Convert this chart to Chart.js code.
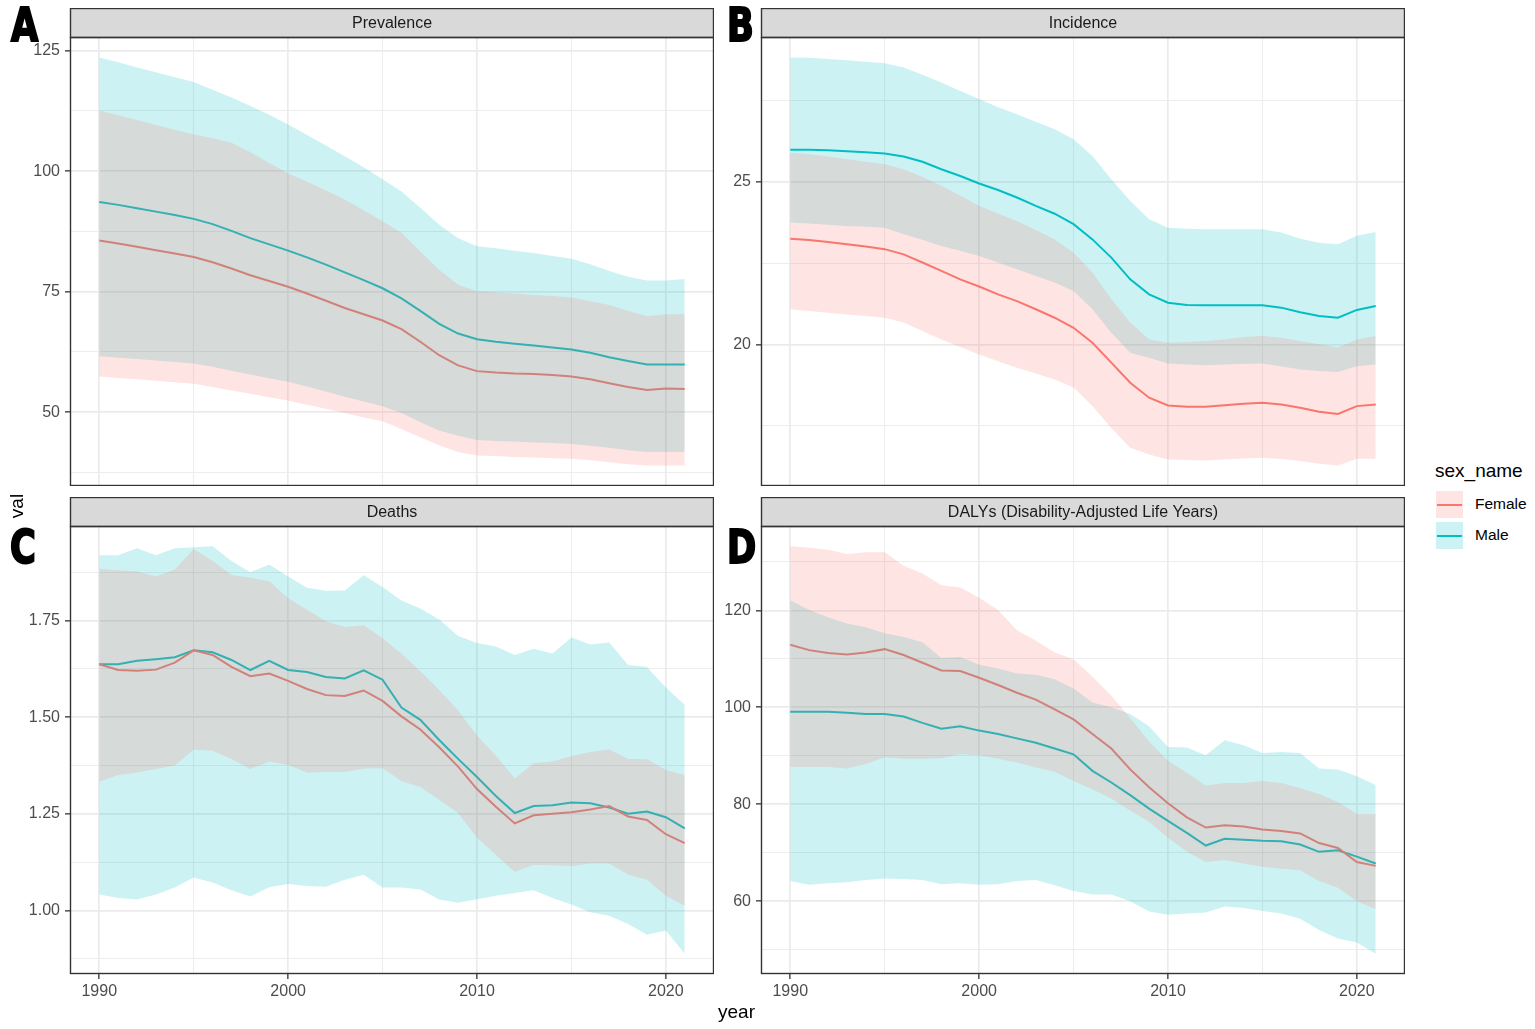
<!DOCTYPE html>
<html>
<head>
<meta charset="utf-8">
<script src="https://cdn.jsdelivr.net/npm/chart.js@4.4.1/dist/chart.umd.min.js"></script>
<style>
  body { margin: 0; background: #fff; font-family: "Liberation Sans", Arial, sans-serif; }
  #page { position: relative; width: 1535px; height: 1029px; overflow: hidden; background: #fff; }
  .panel { position: absolute; }
  .tag { position: absolute; font-family: "Liberation Sans Narrow", "DejaVu Sans Condensed", sans-serif;
         font-weight: bold; font-size: 46px; line-height: 1; color: #000;
         -webkit-text-stroke: 2px #000; transform: scaleX(0.85); transform-origin: left top; }
  .txt { position: absolute; color: #000; white-space: nowrap; }
  .key { position: absolute; width: 27px; height: 27px; }
  .key span { position: absolute; left: 1px; right: 1px; top: 12.5px; height: 2px; }
</style>
</head>
<body>
<div id="page">
  <div class="panel" id="pA" style="left:0px;top:8px;width:714px;height:478px"><canvas id="cA"></canvas></div>
  <div class="panel" id="pB" style="left:691px;top:8px;width:714px;height:478px"><canvas id="cB"></canvas></div>
  <div class="panel" id="pC" style="left:0px;top:497px;width:714px;height:517px"><canvas id="cC"></canvas></div>
  <div class="panel" id="pD" style="left:691px;top:497px;width:714px;height:517px"><canvas id="cD"></canvas></div>

  <div class="tag" style="left:11px;top:2px">A</div>
  <div class="tag" style="left:727px;top:2px">B</div>
  <div class="tag" style="left:10px;top:524px">C</div>
  <div class="tag" style="left:727px;top:524px">D</div>

  <div class="txt" style="left:718px;top:1001px;font-size:19px">year</div>
  <div class="txt" style="left:2px;top:495px;font-size:19px;transform:rotate(-90deg);transform-origin:center;width:30px;text-align:center">val</div>

  <div class="txt" style="left:1435px;top:460px;font-size:19px">sex_name</div>
  <div class="key" style="left:1436px;top:491px;background:rgba(248,118,109,0.2)"><span style="background:#F8766D"></span></div>
  <div class="key" style="left:1436px;top:522px;background:rgba(0,191,196,0.2)"><span style="background:#00BFC4"></span></div>
  <div class="txt" style="left:1475px;top:495px;font-size:15.5px">Female</div>
  <div class="txt" style="left:1475px;top:526px;font-size:15.5px">Male</div>
</div>

<script>
// years 1990-2021
const years = [1990,1991,1992,1993,1994,1995,1996,1997,1998,1999,2000,2001,2002,2003,2004,2005,
               2006,2007,2008,2009,2010,2011,2012,2013,2014,2015,2016,2017,2018,2019,2020,2021];

// Prevalence
const prevFemale   = [85.6,85.0,84.3,83.6,82.9,82.2,81.1,79.8,78.4,77.2,76.0,74.6,73.1,71.6,70.3,69.0,67.2,64.6,61.8,59.7,58.5,58.2,58.0,57.9,57.7,57.4,56.8,56.0,55.2,54.6,54.9,54.8];
const prevFemaleLo = [57.4,57.1,56.8,56.5,56.2,55.9,55.2,54.5,53.8,53.1,52.4,51.5,50.7,49.8,48.9,48.1,46.5,44.8,43.1,41.7,41.0,40.9,40.7,40.6,40.4,40.3,40.0,39.6,39.2,38.9,38.9,38.9];
const prevFemaleHi = [112.6,111.6,110.6,109.6,108.6,107.6,106.8,105.9,103.9,101.7,99.5,97.8,96.0,94.1,91.9,89.6,87.2,83.3,79.5,76.4,75.1,74.8,74.6,74.3,74.1,73.8,73.0,72.2,71.0,69.9,70.3,70.3];
const prevMale     = [93.6,93.0,92.3,91.6,90.9,90.1,89.0,87.6,86.1,84.8,83.5,82.1,80.6,79.0,77.4,75.7,73.6,71.0,68.3,66.3,65.1,64.6,64.2,63.8,63.4,63.0,62.3,61.4,60.6,59.9,59.9,59.9];
const prevMaleLo   = [61.6,61.3,61.0,60.7,60.4,60.1,59.4,58.6,57.8,57.0,56.3,55.3,54.3,53.2,52.2,51.2,49.8,47.9,46.2,45.1,44.2,44.0,43.9,43.7,43.6,43.4,43.0,42.6,42.1,41.7,41.7,41.7];
const prevMaleHi   = [123.6,122.6,121.5,120.5,119.5,118.5,116.9,115.3,113.5,111.7,109.7,107.5,105.3,103.1,100.8,98.3,95.8,92.4,88.9,86.1,84.4,84.0,83.5,83.0,82.4,81.8,80.7,79.3,78.1,77.3,77.3,77.6];

// Incidence
const incFemale   = [23.25,23.21,23.15,23.08,23.01,22.93,22.77,22.52,22.26,22.00,21.78,21.54,21.33,21.08,20.82,20.51,20.05,19.44,18.82,18.36,18.12,18.08,18.08,18.13,18.17,18.20,18.15,18.05,17.93,17.86,18.10,18.15];
const incFemaleLo = [21.08,21.03,20.97,20.92,20.87,20.82,20.67,20.41,20.15,19.92,19.69,19.48,19.28,19.10,18.92,18.67,18.10,17.43,16.82,16.61,16.46,16.44,16.43,16.46,16.49,16.51,16.47,16.41,16.33,16.27,16.48,16.48];
const incFemaleHi = [25.90,25.85,25.78,25.70,25.62,25.54,25.39,25.15,24.88,24.57,24.26,24.03,23.80,23.52,23.23,22.82,22.21,21.39,20.67,20.15,20.05,20.07,20.10,20.15,20.23,20.26,20.20,20.10,20.00,19.90,20.15,20.26];
const incMale     = [25.99,25.99,25.97,25.94,25.91,25.87,25.78,25.62,25.39,25.18,24.95,24.75,24.52,24.26,24.02,23.70,23.23,22.67,22.00,21.54,21.28,21.21,21.20,21.20,21.20,21.20,21.13,20.99,20.87,20.82,21.06,21.18];
const incMaleLo   = [23.75,23.72,23.68,23.64,23.62,23.59,23.39,23.22,23.03,22.88,22.72,22.52,22.31,22.10,21.90,21.64,21.08,20.36,19.74,19.59,19.41,19.38,19.36,19.38,19.40,19.41,19.33,19.23,19.18,19.15,19.33,19.38];
const incMaleHi   = [28.83,28.82,28.78,28.74,28.70,28.65,28.52,28.30,28.06,27.80,27.55,27.30,27.08,26.85,26.62,26.31,25.80,25.08,24.41,23.85,23.59,23.56,23.54,23.54,23.54,23.54,23.44,23.25,23.13,23.08,23.34,23.46];

// Deaths
const deathFemale   = [1.637,1.622,1.620,1.623,1.641,1.673,1.661,1.630,1.606,1.613,1.594,1.573,1.557,1.555,1.569,1.542,1.502,1.468,1.422,1.372,1.314,1.268,1.225,1.246,1.250,1.254,1.261,1.270,1.243,1.234,1.197,1.174];
const deathFemaleLo = [1.333,1.350,1.357,1.366,1.375,1.416,1.413,1.392,1.366,1.385,1.376,1.357,1.358,1.358,1.367,1.368,1.335,1.319,1.286,1.252,1.188,1.144,1.099,1.118,1.117,1.115,1.121,1.121,1.093,1.079,1.038,1.012];
const deathFemaleHi = [1.884,1.880,1.877,1.864,1.882,1.935,1.904,1.868,1.861,1.852,1.808,1.778,1.748,1.733,1.738,1.704,1.664,1.619,1.570,1.517,1.452,1.401,1.341,1.381,1.385,1.399,1.410,1.416,1.392,1.391,1.363,1.350];
const deathMale     = [1.637,1.637,1.646,1.650,1.655,1.673,1.668,1.648,1.622,1.646,1.622,1.617,1.604,1.600,1.621,1.597,1.525,1.493,1.441,1.392,1.345,1.296,1.252,1.270,1.272,1.279,1.277,1.266,1.250,1.256,1.241,1.212];
const deathMaleLo   = [1.041,1.032,1.028,1.041,1.059,1.085,1.072,1.052,1.036,1.060,1.068,1.063,1.061,1.079,1.092,1.059,1.059,1.054,1.028,1.020,1.029,1.038,1.045,1.052,1.032,1.015,0.995,0.986,0.965,0.937,0.948,0.888];
const deathMaleHi   = [1.919,1.919,1.937,1.919,1.937,1.940,1.942,1.904,1.875,1.895,1.864,1.835,1.827,1.828,1.867,1.837,1.802,1.781,1.753,1.710,1.692,1.683,1.661,1.677,1.665,1.706,1.688,1.693,1.635,1.630,1.577,1.532];

// DALYs
const dalyFemale   = [112.9,111.8,111.2,110.9,111.3,112.0,110.8,109.2,107.6,107.5,106.1,104.6,103.0,101.6,99.6,97.5,94.5,91.5,87.2,83.5,80.2,77.3,75.2,75.7,75.4,74.8,74.5,74.0,72.0,71.0,68.1,67.3];
const dalyFemaleLo = [87.7,87.7,87.7,87.4,88.3,89.7,89.4,89.4,89.5,90.4,90.1,89.4,88.6,87.6,86.7,84.8,83.1,81.2,78.7,76.4,73.1,70.2,68.1,68.5,67.8,67.1,66.7,66.4,64.2,62.8,60.0,58.4];
const dalyFemaleHi = [133.2,132.9,132.5,131.6,132.0,132.0,129.2,127.6,125.2,124.7,122.6,120.1,115.9,113.8,111.3,109.9,106.3,102.4,97.8,92.9,89.0,86.5,83.9,84.4,84.4,84.8,84.4,83.3,82.1,80.5,78.0,78.0];
const dalyMale     = [99.1,99.1,99.1,98.9,98.6,98.6,98.1,96.8,95.6,96.1,95.2,94.5,93.6,92.7,91.5,90.3,86.9,84.5,81.9,79.1,76.6,74.1,71.5,72.9,72.7,72.5,72.4,71.7,70.2,70.5,69.2,67.8];
const dalyMaleLo   = [64.2,63.4,63.7,63.9,64.4,64.7,64.6,64.4,63.5,63.7,63.4,63.5,64.2,64.4,63.3,62.1,61.4,61.4,60.0,57.9,57.2,57.5,57.7,58.9,58.6,58.0,57.5,56.4,54.1,52.3,51.5,49.2];
const dalyMaleHi   = [122.1,120.1,118.6,117.3,116.5,115.3,114.5,113.4,110.2,110.4,108.8,108.0,107.0,106.7,105.8,103.9,101.0,100.0,98.6,96.1,91.8,91.7,90.1,93.2,92.2,90.6,90.8,90.6,87.4,87.2,85.8,84.0];

// axis breaks (empty label = minor grid line)
const xTicks      = [1990, 1995, 2000, 2005, 2010, 2015, 2020];
const xTickLabels = ['1990', '', '2000', '', '2010', '', '2020'];
const prevTicks  = [37.5, 50, 62.5, 75, 87.5, 100, 112.5, 125];
const prevLabels = ['', '50', '', '75', '', '100', '', '125'];
const incTicks   = [17.5, 20, 22.5, 25, 27.5];
const incLabels  = ['', '20', '', '25', ''];
const deathTicks  = [0.875, 1.0, 1.125, 1.25, 1.375, 1.5, 1.625, 1.75, 1.875];
const deathLabels = ['', '1.00', '', '1.25', '', '1.50', '', '1.75', ''];
const dalyTicks  = [50, 60, 70, 80, 90, 100, 110, 120, 130];
const dalyLabels = ['', '60', '', '80', '', '100', '', '120', ''];

const FEMALE = '#F8766D', MALE = '#00BFC4';
const FEMALE_FILL = 'rgba(248,118,109,0.2)', MALE_FILL = 'rgba(0,191,196,0.2)';
const STRIP_H = 29;

Chart.defaults.font.family = '"Liberation Sans", Arial, sans-serif';
Chart.defaults.animation = false;

const pts = arr => arr.map((v, i) => ({ x: years[i], y: v }));

// strip on top + panel border, like theme_bw
const facetPlugin = {
    id: 'facet',
    afterDraw(chart, args, opts) {
        const { ctx, chartArea: a } = chart;
        ctx.save();
        ctx.fillStyle = '#D9D9D9';
        ctx.fillRect(a.left, a.top - STRIP_H, a.right - a.left, STRIP_H);
        ctx.strokeStyle = '#333333';
        ctx.lineWidth = 1.4;
        ctx.strokeRect(a.left + 0.5, a.top - STRIP_H + 0.5, a.right - a.left - 1, STRIP_H);
        ctx.fillStyle = '#1A1A1A';
        ctx.font = '16px "Liberation Sans", Arial, sans-serif';
        ctx.textAlign = 'center';
        ctx.textBaseline = 'middle';
        ctx.fillText(opts.title, (a.left + a.right) / 2, a.top - STRIP_H / 2 + 1);
        ctx.strokeRect(a.left + 0.5, a.top + 0.5, a.right - a.left - 1, a.bottom - a.top - 1);
        ctx.restore();
    }
};

function makePanel(id, title, s, yTicks, yLabels, showX) {
    const all = s.fLo.concat(s.fHi, s.mLo, s.mHi);
    const lo = Math.min(...all), hi = Math.max(...all);
    const pad = (hi - lo) * 0.05;
    const xpad = (years[years.length - 1] - years[0]) * 0.05;

    const line = (data, color) => ({
        data: pts(data), borderColor: color, borderWidth: 2, pointRadius: 0, fill: false, order: 2
    });
    const band = (data, color, fill) => ({
        data: pts(data), borderColor: 'transparent', borderWidth: 0, pointRadius: 0,
        backgroundColor: color, fill: fill, order: 1
    });

    const grid = ticks => ({
        color: '#EBEBEB',
        lineWidth: c => (c.tick && ticks.labels[ticks.values.indexOf(c.tick.value)] !== '') ? 1.7 : 0.9,
        tickColor: c => (c.tick && ticks.labels[ticks.values.indexOf(c.tick.value)] !== '') ? '#333333' : 'rgba(0,0,0,0)',
        tickWidth: 1.3,
        tickLength: 5,
        drawTicks: ticks.show
    });

    new Chart(document.getElementById(id), {
        type: 'line',
        data: {
            datasets: [
                line(s.f, FEMALE),
                line(s.m, MALE),
                band(s.fHi, FEMALE_FILL, '+1'),
                band(s.fLo, FEMALE_FILL, false),
                band(s.mHi, MALE_FILL, '+1'),
                band(s.mLo, MALE_FILL, false)
            ]
        },
        options: {
            responsive: true,
            maintainAspectRatio: false,
            layout: { padding: { top: STRIP_H, left: 0, right: 0, bottom: 0 } },
            elements: { line: { tension: 0 } },
            plugins: {
                legend: { display: false },
                tooltip: { enabled: false },
                facet: { title: title }
            },
            scales: {
                x: {
                    type: 'linear',
                    min: years[0] - xpad,
                    max: years[years.length - 1] + xpad,
                    border: { display: false },
                    grid: grid({ values: xTicks, labels: xTickLabels, show: showX }),
                    ticks: {
                        display: showX, autoSkip: false, maxRotation: 0, padding: 3,
                        color: '#4D4D4D', font: { size: 16 },
                        callback: v => xTickLabels[xTicks.indexOf(v)] ?? ''
                    },
                    afterBuildTicks: sc => { sc.ticks = xTicks.map(v => ({ value: v })); },
                    afterFit: sc => {
                        sc.height = showX ? 40 : 0;
                        sc.paddingLeft = 0; sc.paddingRight = 0;
                    }
                },
                y: {
                    type: 'linear',
                    min: lo - pad,
                    max: hi + pad,
                    border: { display: false },
                    grid: grid({ values: yTicks, labels: yLabels, show: true }),
                    ticks: {
                        autoSkip: false, padding: 5, color: '#4D4D4D', font: { size: 16 },
                        callback: v => yLabels[yTicks.indexOf(v)] ?? ''
                    },
                    afterBuildTicks: sc => { sc.ticks = yTicks.map(v => ({ value: v })); },
                    afterFit: sc => {
                        sc.width = 70;
                        sc.paddingTop = 0; sc.paddingBottom = 0;
                    }
                }
            }
        },
        plugins: [facetPlugin]
    });
}

makePanel('cA', 'Prevalence',
    { f: prevFemale, fLo: prevFemaleLo, fHi: prevFemaleHi, m: prevMale, mLo: prevMaleLo, mHi: prevMaleHi },
    prevTicks, prevLabels, false);
makePanel('cB', 'Incidence',
    { f: incFemale, fLo: incFemaleLo, fHi: incFemaleHi, m: incMale, mLo: incMaleLo, mHi: incMaleHi },
    incTicks, incLabels, false);
makePanel('cC', 'Deaths',
    { f: deathFemale, fLo: deathFemaleLo, fHi: deathFemaleHi, m: deathMale, mLo: deathMaleLo, mHi: deathMaleHi },
    deathTicks, deathLabels, true);
makePanel('cD', 'DALYs (Disability-Adjusted Life Years)',
    { f: dalyFemale, fLo: dalyFemaleLo, fHi: dalyFemaleHi, m: dalyMale, mLo: dalyMaleLo, mHi: dalyMaleHi },
    dalyTicks, dalyLabels, true);
</script>
</body>
</html>
